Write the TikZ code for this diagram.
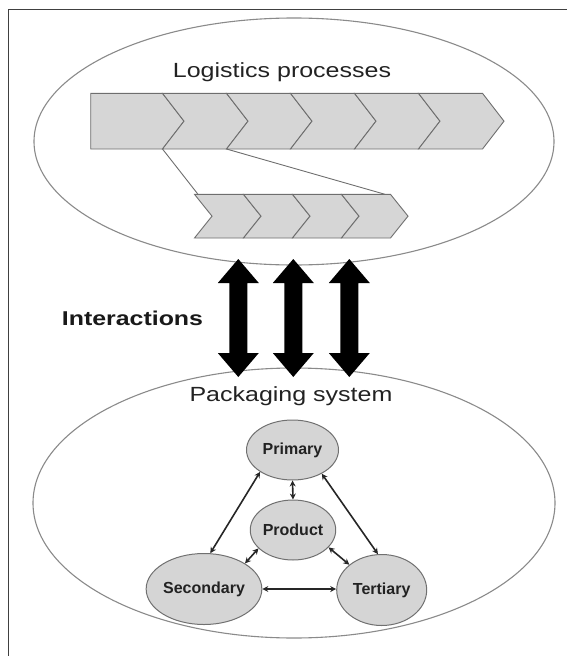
\documentclass[tikz,border=0pt]{standalone}
\usepackage{fontspec}
\setmainfont{Liberation Sans}
\usetikzlibrary{shapes.geometric,arrows.meta}
\definecolor{chevfill}{HTML}{D6D6D6}
\definecolor{chevline}{HTML}{6E6E6E}
\definecolor{ovalline}{HTML}{8A8A8A}
\definecolor{nodefill}{HTML}{D5D5D5}
\definecolor{nodeline}{HTML}{707070}
\definecolor{txt}{HTML}{222222}
\tikzset{
  chev/.style={fill=chevfill,draw=chevline,line width=0.9pt,line join=miter},
  link/.style={draw=chevline,line width=0.9pt},
  bigoval/.style={ellipse,draw=ovalline,line width=1.1pt,inner sep=0pt},
  pkg/.style={ellipse,fill=nodefill,draw=nodeline,line width=1pt,inner sep=0pt,
    font=\fontsize{16}{18}\selectfont\bfseries,text=txt},
  twoway/.style={line width=1.6pt,draw=black!85,{Stealth[length=6pt,width=6pt]}-{Stealth[length=6pt,width=6pt]}},
  bigarrow/.style={fill=black},
  frameline/.style={draw=black!75,line width=1pt}
}
\begin{document}
\begin{tikzpicture}[x=1pt,y=-1pt]
\useasboundingbox (0,0) rectangle (567,656);
% frame
\draw[frameline] (8,656) -- (8,9.5) -- (567,9.5);
% big ovals
\node[bigoval,minimum width=520pt,minimum height=247pt] (logi) at (294,141.5) {};
\node[bigoval,minimum width=522pt,minimum height=270pt] (pack) at (294,503) {};
% titles
\node[anchor=base,inner sep=0pt,text=txt,font=\fontsize{20.5}{24}\selectfont] (ltitle) at (282,77.3) {\scalebox{1.22}[1]{Logistics processes}};
\node[anchor=base,inner sep=0pt,text=txt,font=\fontsize{20.5}{24}\selectfont] (ptitle) at (291,401.5) {\scalebox{1.22}[1]{Packaging system}};
\node[anchor=base west,inner sep=0pt,text=black!90,font=\fontsize{20}{24}\selectfont\bfseries] (inter) at (61.7,325) {\scalebox{1.245}[1]{Interactions}};
% long chevron row
\def\chTa{93.3}\def\chTb{149}\def\chTm{121.15}\def\chTd{21.5}
\draw[chev] (90.7,\chTa) -- (162.5,\chTa) -- (162.5+\chTd,\chTm) -- (162.5,\chTb) -- (90.7,\chTb) -- cycle;
\foreach \i in {0,...,4}{
  \pgfmathsetmacro{\xa}{162.5+64*\i}
  \pgfmathsetmacro{\xb}{162.5+64*(\i+1)}
  \draw[chev] (\xa,\chTa) -- (\xb,\chTa) -- (\xb+\chTd,\chTm) -- (\xb,\chTb) -- (\xa,\chTb) -- (\xa+\chTd,\chTm) -- cycle;
}
% short chevron row
\def\chSa{194.3}\def\chSb{238}\def\chSm{216.15}\def\chSd{17.5}
\foreach \i in {0,...,3}{
  \pgfmathsetmacro{\xa}{194.5+49*\i}
  \pgfmathsetmacro{\xb}{194.5+49*(\i+1)}
  \draw[chev] (\xa,\chSa) -- (\xb,\chSa) -- (\xb+\chSd,\chSm) -- (\xb,\chSb) -- (\xa,\chSb) -- (\xa+\chSd,\chSm) -- cycle;
}
% zoom lines
\coordinate (za) at (162.5,149);
\coordinate (zb) at (226.5,149);
\coordinate (zc) at (198,194.3);
\coordinate (zd) at (385,194.3);
\draw[link] (za) -- (zc);
\draw[link] (zb) -- (zd);
% big double arrows
\foreach \cx in {238.3,293.3,349.3}{
  \fill[bigarrow] (\cx,259) -- (\cx+20.5,283) -- (\cx+9,283) -- (\cx+9,353) -- (\cx+20.5,353)
    -- (\cx,377) -- (\cx-20.5,353) -- (\cx-9,353) -- (\cx-9,283) -- (\cx-20.5,283) -- cycle;
}
% packaging nodes
\node[pkg,minimum width=92pt,minimum height=60pt] (prim) at (292.5,450) {Primary};
\node[pkg,minimum width=77pt,minimum height=60pt] (prod) at (293,530) {Product};
\node[pkg,minimum width=89pt,minimum height=71pt] (sec) at (204,589) {Secondary};
\node[pkg,minimum width=90pt,minimum height=71pt] (ter) at (381.7,590) {Tertiary};
% connectors
\draw[twoway] (prim.214) -- (sec.80);
\draw[twoway] (prim.321) -- (ter.96);
\draw[twoway] (prim.south) -- (prod.north);
\draw[twoway] (prod.208) -- (sec.32);
\draw[twoway] (prod.334) -- (ter.142);
\draw[twoway] (sec.east) -- (ter.west|-sec.east);
\end{tikzpicture}
\end{document}
